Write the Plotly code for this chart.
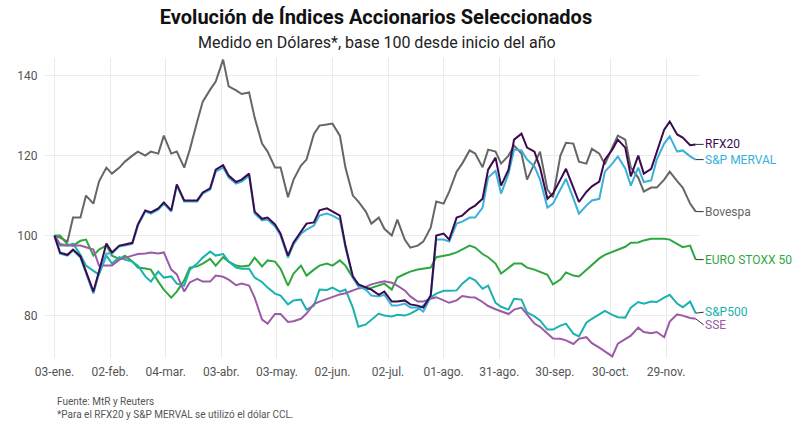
import datetime as dt
import plotly.graph_objects as go

# ---------------- data ----------------
base_date = dt.date(2022, 1, 3)
dias = [0, 3, 7, 10, 14, 17, 21, 24, 28, 31, 35, 38, 42, 45, 49, 52, 56, 59, 63, 66,
        70, 73, 77, 80, 84, 87, 91, 94, 98, 101, 105, 108, 112, 115, 119, 122, 126, 129, 133, 136,
        140, 143, 147, 150, 154, 157, 161, 164, 168, 171, 175, 178, 182, 185, 189, 192, 196, 199, 203, 206,
        210, 213, 217, 220, 224, 227, 231, 234, 238, 241, 245, 248, 252, 255, 259, 262, 266, 269, 273, 276,
        280, 283, 287, 290, 294, 297, 301, 304, 308, 311, 315, 318, 322, 325, 329, 332, 336, 339, 343, 346]

rfx20 = [100, 95.7, 95.2, 96.5, 94.8, 91, 86, 91, 98, 95.8, 97.5, 97.8, 98.2, 102.8, 106.3, 105.8, 106.8, 108.3, 106.3, 112.8,
         108.8, 108.8, 108.8, 110.8, 111.8, 116.5, 117.6, 115, 113.4, 114, 115.5, 106, 104.2, 104.5, 102.8, 100.5, 95, 98.3, 101, 103,
         103.3, 106.3, 106.8, 106, 105, 97.5, 89.8, 87.8, 87, 86.5, 85.2, 86, 83.5, 83.5, 83.8, 82.8, 82.5, 82, 85, 100,
         100.5, 99, 104.5, 105, 106.7, 107.5, 109.2, 116.5, 119.5, 112.5, 116.5, 124, 125.5, 122, 121, 117, 109.2, 110.5, 114, 116.7,
         112, 108.4, 110.9, 112.3, 113.5, 119, 121.5, 124, 122, 114.8, 120, 115.5, 116.7, 121, 126.5, 128.5, 125.3, 124.5, 122.6, 122.8]

merval = [100, 95.5, 95, 96.3, 94.5, 90.8, 85.5, 90.5, 95.5, 95.5, 97.3, 97.5, 97.9, 102.5, 106, 105.5, 106.5, 108, 106, 112.5,
          108.5, 108.5, 108.5, 110.5, 111.5, 116, 117, 114.5, 113, 113.5, 115, 105.5, 103.8, 104, 102.3, 100, 94.5, 97.8, 100.5, 101.5,
          102.5, 105, 105.5, 105, 104, 97, 89.5, 87.3, 86.5, 85, 84.8, 85.2, 82.5, 82.5, 83, 82, 82, 81, 84.6, 99,
          99, 98.5, 103, 103.5, 104.5, 104.5, 107, 114.5, 116.2, 110.5, 115.5, 121.5, 121.3, 119, 117.3, 114, 107, 108, 111.5, 114.2,
          109.3, 105.5, 107.5, 108.8, 109.2, 116, 118, 119.8, 116.8, 112.5, 117, 113.4, 113.8, 119, 123, 124.8, 121, 121.3, 119.8, 119]

bovespa = [100, 99.5, 98.5, 104.5, 104.5, 110, 108, 113.5, 117, 115.5, 117, 118.5, 120, 121, 120, 121, 120.5, 125, 120.5, 121,
           117, 121.5, 128.5, 133.5, 136.5, 138.5, 144, 137.3, 136.3, 135.4, 135.8, 129.5, 123, 121, 117, 117, 109.6, 114, 117.5, 119,
           125.4, 127.5, 127.8, 128, 125, 117, 110, 108.5, 106, 103, 104.5, 101.7, 100, 104, 99, 97, 97.5, 98.5, 102, 108.5,
           108, 111, 116, 118, 121.3, 120.5, 117.1, 121.5, 121, 118, 120, 122.5, 120.5, 114, 118, 121, 111.5, 109.6, 120, 123.2,
           123, 118.5, 118, 121.7, 120.5, 117.8, 122, 125, 124, 117, 114.5, 111, 112, 112, 114, 116, 113.6, 112, 108, 106]

eurostoxx = [100, 100, 97.8, 97.5, 98.7, 99, 95, 96.5, 97.5, 95, 94.2, 95, 93.5, 92, 91.8, 91.5, 88.5, 86.5, 84.5, 86,
             88.8, 92, 92.3, 93, 94.2, 92.5, 94.6, 93.5, 92.5, 92.3, 92.5, 94.5, 92.3, 93.8, 93.5, 91.7, 87.5, 90.5, 92.5, 90,
             91.5, 92.5, 93, 92.5, 93.8, 92.5, 89.5, 87.5, 86.5, 87, 87.5, 88, 86.5, 89.5, 90.4, 91, 91.5, 91.7, 92, 94.6,
             95, 95.2, 95.8, 96.5, 97.5, 97, 95.4, 94.6, 93, 90.5, 91.8, 93, 93, 92, 91.5, 91, 90.2, 87.8, 89, 90.8,
             90, 89.8, 91.5, 92.8, 94.3, 95.2, 95.9, 96.5, 97.2, 98.2, 98.3, 98.8, 99.2, 99.2, 99.2, 99, 97.8, 97.1, 97.5, 94]

sp500 = [100, 97.5, 97.5, 98, 95.2, 92.5, 91.2, 90.3, 95, 93, 94.6, 94, 93.5, 92.5, 89.8, 88.5, 91, 89.5, 89.8, 88,
         87.5, 91.5, 93, 94.5, 96, 95, 95.4, 93.5, 92, 91.7, 91.7, 89.5, 88.4, 87, 85.5, 85, 82.8, 83.8, 84, 81.5,
         82.5, 86.5, 86.4, 87, 86, 86.5, 82, 77.2, 77.8, 79, 80.5, 80, 79.8, 80.2, 80, 80.5, 81.5, 82.5, 84.5, 85.5,
         86.2, 86.2, 86.3, 88, 89.5, 88.8, 86.7, 87.5, 83.2, 82.2, 81.5, 84.2, 84, 80.8, 79.8, 78.8, 76.5, 76.5, 77.5, 78,
         75.5, 74.8, 78.2, 79.2, 80.4, 81.2, 80.2, 79.6, 79.5, 82, 83.4, 83, 83.5, 83.4, 84.5, 85.2, 83, 82.1, 83.5, 80.6]

sse = [100, 97.9, 97.5, 97.5, 97.5, 97.1, 96.5, 92.5, 92.5, 92.5, 94, 94.5, 95, 95.4, 95.5, 95.8, 95.5, 95.8, 91.5, 90.3,
       86, 88.3, 89.2, 88.5, 88.5, 90, 89.7, 89, 87.6, 88, 87.5, 84.5, 79, 78, 80.4, 80.4, 78.4, 78.6, 79.2, 80.5,
       82.9, 83.5, 84.2, 84.8, 85.3, 85.6, 86.2, 86.8, 87.2, 87.8, 88.3, 88.6, 88.2, 87.5, 86.3, 84.8, 83.5, 83.5, 84.2, 84.6,
       83.8, 83.2, 83.8, 84.9, 84.6, 84.5, 83.4, 82.4, 81.6, 81, 80.4, 81.5, 82, 80.3, 78, 77.2, 75.6, 74.3, 74.2, 73.8,
       72.9, 74.2, 74.6, 73.1, 72, 71, 69.8, 73, 74.2, 75, 77, 75.9, 75.6, 75.9, 74.6, 78.5, 80.3, 80, 79.4, 79.2]

series_names = ["RFX20", "S&P MERVAL", "Bovespa", "EURO STOXX 50", "S&P500", "SSE"]
series_values = [rfx20, merval, bovespa, eurostoxx, sp500, sse]
series_colors = ["#3B0A4F", "#3AB1D8", "#666666", "#2FA73F", "#19B2AE", "#9B5BA7"]
label_shift = [0, 0, 0, 0, -1, 6]   # pixel nudge of the end labels (repel)

tick_dates = ["2022-01-03", "2022-02-02", "2022-03-04", "2022-04-03", "2022-05-03", "2022-06-02",
              "2022-07-02", "2022-08-01", "2022-08-31", "2022-09-30", "2022-10-30", "2022-11-29"]
tick_labels = ["03-ene.", "02-feb.", "04-mar.", "03-abr.", "03-may.", "02-jun.",
               "02-jul.", "01-ago.", "31-ago.", "30-sep.", "30-oct.", "29-nov."]
y_ticks = [80, 100, 120, 140]

fechas = [base_date + dt.timedelta(days=d) for d in dias]

# ---------------- figure ----------------
FONT = "Roboto, 'Noto Sans', sans-serif"
fig = go.Figure()

# draw order: bottom lines first so RFX20 sits on top of S&P MERVAL
order = [2, 3, 4, 5, 1, 0]
for i in order:
    fig.add_trace(go.Scatter(
        x=fechas, y=series_values[i], mode="lines", name=series_names[i],
        line=dict(color=series_colors[i], width=2), showlegend=False,
        hoverinfo="skip"))

for i, name in enumerate(series_names):
    fig.add_annotation(
        x=fechas[-1], y=series_values[i][-1], xref="x", yref="y",
        text=name, showarrow=True, arrowhead=0, arrowwidth=1, arrowcolor="#333333",
        ax=8, ay=label_shift[i], xanchor="left", yanchor="middle",
        font=dict(family=FONT, size=12, color=series_colors[i]),
        borderpad=0)

fig.update_layout(
    width=800, height=427,
    margin=dict(l=45, r=101, t=58, b=69),
    paper_bgcolor="white", plot_bgcolor="white",
    font=dict(family=FONT, color="#4D4D4D"),
    title=dict(
        text="<b>Evolución de Índices Accionarios Seleccionados</b>",
        x=0.47, xanchor="center", y=0.96, yanchor="middle",
        font=dict(family=FONT, size=20, color="#111111")),
    xaxis=dict(
        type="date",
        range=["2021-12-28 21:00", "2022-12-16 19:00"],
        tickmode="array", tickvals=tick_dates, ticktext=tick_labels,
        showgrid=True, gridcolor="#EBEBEB", gridwidth=1,
        zeroline=False, showline=False,
        ticks="outside", ticklen=3, tickcolor="rgba(0,0,0,0)",
        tickfont=dict(family=FONT, size=12, color="#555555")),
    yaxis=dict(
        range=[69.4, 144.4],
        tickmode="array", tickvals=y_ticks,
        showgrid=True, gridcolor="#EBEBEB", gridwidth=1,
        zeroline=False, showline=False,
        ticks="outside", ticklen=4, tickcolor="rgba(0,0,0,0)",
        tickfont=dict(family=FONT, size=12, color="#555555")),
)

fig.add_annotation(
    text="Medido en Dólares*, base 100 desde inicio del año",
    xref="paper", yref="paper", x=0.507, y=1.0, yshift=16,
    xanchor="center", yanchor="middle", showarrow=False,
    font=dict(family=FONT, size=16, color="#222222"))

fig.add_annotation(
    text="Fuente: MtR y Reuters<br>*Para el RFX20 y S&P MERVAL se utilizó el dólar CCL.",
    xref="paper", yref="paper", x=0.0, xshift=10, y=0, yshift=-36,
    xanchor="left", yanchor="top", align="left", showarrow=False,
    font=dict(family=FONT, size=10, color="#555555"))

fig.write_html("out.html", config={"displayModeBar": False},
               post_script="document.body.style.margin='0';")
